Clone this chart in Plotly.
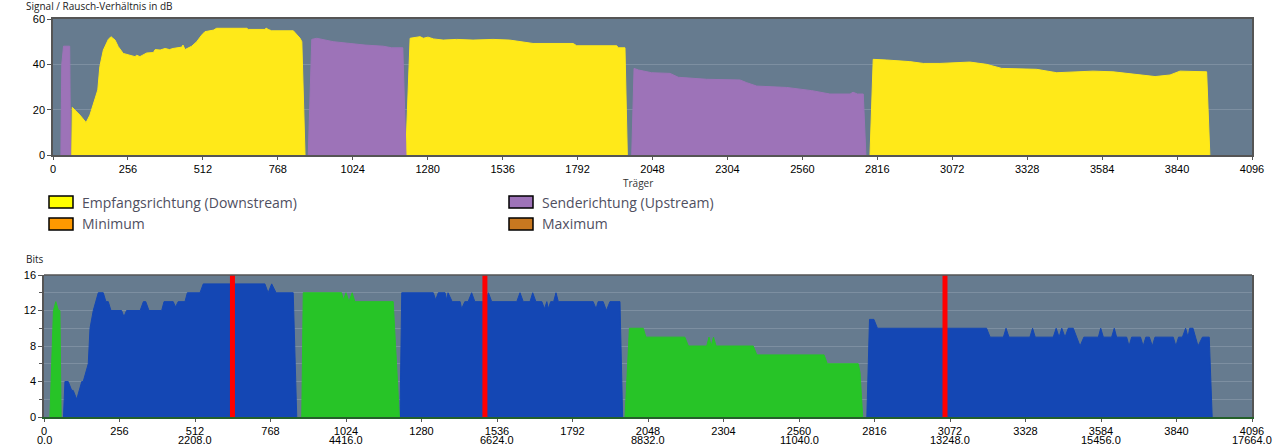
import plotly.graph_objects as go

# ---------------- data ----------------
# SNR (dB) per carrier, downstream
ds_snr_tone = [64, 66, 92, 113, 126, 143, 153, 160, 172, 189, 198, 212, 223, 240, 263, 280, 286, 297,
               320, 343, 349, 366, 383, 398, 410, 440, 444, 451, 474, 491, 508, 519, 548, 559, 662, 667,
               724, 728, 735, 747, 821, 844, 850, 861,
               None,
               1205, 1220, 1254, 1265, 1281, 1300, 1333, 1379, 1435, 1503, 1560, 1595, 1640, 1777, 1789,
               1926, 1931, 1954, 1962,
               None,
               2791, 2802, 2848, 2927, 2973, 3030, 3132, 3189, 3241, 3360, 3429, 3553, 3621, 3713,
               3765, 3816, 3850, 3941, 3952]
ds_snr_db = [0, 21, 17.6, 14.3, 17.6, 24.3, 28.7, 39, 46.3, 51, 52.2, 50.7, 47.8, 44.8, 44, 43.4, 44, 43.4,
             45, 45.2, 46.5, 46.3, 47, 46.5, 47, 47.6, 48.5, 46.5, 48, 50, 52.9, 54.4, 55.1, 55.9, 55.9, 55.4,
             55.4, 56, 55.4, 54.8, 54.8, 51.5, 50, 0,
             None,
             0, 51.5, 52.2, 51.5, 52, 51.2, 50.7, 51, 50.7, 51, 50.7, 50, 49.2, 49.2, 48.2,
             48.2, 47.3, 47.3, 0,
             None,
             0, 42.2, 41.9, 41.2, 40.4, 40.4, 41, 40, 38.2, 37.8, 36.3, 37, 36.7, 35.3,
             34.6, 35.3, 37, 36.7, 0]

# SNR (dB) per carrier, upstream
us_snr_tone = [27, 30, 36, 57, 60,
               None,
               872, 884, 901, 957, 1015, 1066, 1128, 1157, 1195, 1206,
               None,
               1977, 1985, 2000, 2045, 2108, 2136, 2233, 2347, 2370, 2404, 2506, 2592, 2654, 2723, 2733,
               2748, 2768, 2777]
us_snr_db = [0, 40, 48, 48, 0,
             None,
             0, 51, 51.5, 50, 49.2, 48.5, 48, 47.3, 47.3, 0,
             None,
             0, 38.2, 37.5, 36.3, 36, 34.3, 33.4, 33.1, 31.9, 30.4, 29.8, 28.4, 26.9, 26.9, 27.7,
             26.9, 26.9, 0]

# Bits per carrier, downstream
ds_bits_tone = [66, 71, 82, 94, 99, 111, 128, 133, 150, 156, 167, 184, 201, 210, 218, 227, 263, 271, 280,
                326, 337, 345, 356, 399, 407, 438, 446, 455, 478, 486, 529, 540, 749, 760, 772, 787, 845, 857,
                None,
                1207, 1213, 1320, 1328, 1337, 1360, 1365, 1370, 1384, 1411, 1416, 1427, 1438, 1450, 1461,
                1496, 1507, 1518, 1603, 1614, 1625, 1648, 1657, 1668, 1688, 1697, 1705, 1710, 1718, 1728,
                1736, 1744, 1862, 1872, 1879, 1896, 1907, 1919, 1953, 1962,
                None,
                2790, 2799, 2814, 2826, 3196, 3208, 3253, 3262, 3272, 3343, 3352, 3361, 3422, 3432, 3442,
                3451, 3462, 3473, 3490, 3513, 3526, 3575, 3583, 3592, 3620, 3629, 3637, 3671, 3679, 3688,
                3718, 3727, 3736, 3748, 3758, 3767, 3829, 3838, 3847, 3860, 3871, 3879, 3885, 3896, 3913,
                3928, 3951, 3961]
ds_bits = [0, 4, 4, 3, 3, 2, 4, 4, 6, 10, 12, 14, 14, 13, 13, 12, 12, 11.3, 12,
           12, 13, 13, 12, 12, 13, 13, 12.4, 13, 13, 14, 14, 15, 15, 14, 15, 14, 14, 0,
           None,
           0, 14, 14, 13.2, 14, 14, 13.2, 14, 13, 13, 12.2, 13, 13, 14, 13,
           13, 14, 13, 13, 14, 13, 13, 14, 13, 13, 12.2, 13, 12.2, 13, 13,
           14, 13, 13, 12.2, 13, 13, 12, 13, 13, 0,
           None,
           0, 11, 11, 10, 10, 9, 9, 10, 9, 9, 10, 9, 9, 10, 9,
           10, 9, 10, 10, 8, 9, 9, 10, 9, 9, 10, 9, 9, 8, 9,
           9, 8, 9, 9, 8, 9, 9, 8, 9, 9, 10, 9, 10, 10, 8,
           9, 9, 0]

# Bits per carrier, upstream
us_bits_tone = [20, 32, 40, 49, 54, 58,
                None,
                874, 879, 1009, 1015, 1024, 1034, 1045, 1054, 1184, 1205,
                None,
                1970, 1985, 2032, 2041, 2173, 2185, 2247, 2255, 2262, 2270, 2279, 2405, 2417, 2645, 2656,
                2761, 2767, 2776]
us_bits = [0, 12, 13, 12, 12, 0,
           None,
           0, 14, 14, 13.2, 14, 13, 14, 13, 13, 0,
           None,
           0, 10, 10, 9, 9, 8, 8, 9, 8, 9, 8, 8, 7, 7, 6,
           6, 5, 0]

# marker carriers (red lines)
marker_tones = [639, 1495, 3055]

tick_tones = list(range(0, 4097, 256))
khz_tones = list(range(0, 4097, 512))
khz_per_tone = 4.3125

legend_names = ["Empfangsrichtung (Downstream)", "Senderichtung (Upstream)", "Minimum", "Maximum"]
legend_colors = ["#FFFF00", "#9E73B8", "#FF9900", "#C87820"]

# ---------------- styles ----------------
YELLOW = "#FFE919"
PURPLE = "#9D73B8"
BLUE = "#1447B4"
GREEN = "#27C427"
RED = "#FF0000"
BG = "#667B8F"
GRID = "#7D8FA1"
FRAME = "#555555"
TICKFONT = dict(family="Liberation Sans, Arial, sans-serif", size=11, color="#000000")

W, H = 1274, 445
ML, MR, MT, MB = 44, 22, 19, 28
PW, PH = W - ML - MR, H - MT - MB


def px_x(p):
    return (p - ML) / PW


def px_y(p):
    return (H - MB - p) / PH


fig = go.Figure()

fig.add_trace(go.Scatter(x=ds_snr_tone, y=ds_snr_db, mode="lines", fill="tozeroy",
                         line=dict(color=YELLOW, width=1), fillcolor=YELLOW,
                         xaxis="x", yaxis="y", showlegend=False, hoverinfo="skip"))
fig.add_trace(go.Scatter(x=us_snr_tone, y=us_snr_db, mode="lines", fill="tozeroy",
                         line=dict(color=PURPLE, width=1), fillcolor=PURPLE,
                         xaxis="x", yaxis="y", showlegend=False, hoverinfo="skip"))

fig.add_trace(go.Scatter(x=ds_bits_tone, y=ds_bits, mode="lines", fill="tozeroy",
                         line=dict(color=BLUE, width=1), fillcolor=BLUE,
                         xaxis="x2", yaxis="y2", showlegend=False, hoverinfo="skip"))
fig.add_trace(go.Scatter(x=us_bits_tone, y=us_bits, mode="lines", fill="tozeroy",
                         line=dict(color=GREEN, width=1), fillcolor=GREEN,
                         xaxis="x2", yaxis="y2", showlegend=False, hoverinfo="skip"))

mx, my = [], []
for t in marker_tones:
    mx += [t, t, None]
    my += [0, 16, None]
fig.add_trace(go.Scatter(x=mx, y=my, mode="lines", line=dict(color=RED, width=5),
                         xaxis="x2", yaxis="y2", showlegend=False, hoverinfo="skip"))

top_dom = [px_y(155), px_y(19)]
bot_dom = [0, px_y(275)]

axis_common = dict(showline=True, linecolor=FRAME, linewidth=1.5, ticks="outside", ticklen=4,
                   tickcolor=FRAME, tickfont=TICKFONT, zeroline=False, automargin=False)
xaxis_common = dict(axis_common, ticklen=3)

fig.update_layout(
    width=W, height=H,
    margin=dict(l=ML, r=MR, t=MT, b=MB, autoexpand=False),
    paper_bgcolor="white", plot_bgcolor=BG,
    xaxis=dict(domain=[px_x(53), 1], anchor="y", range=[0, 4096], tickvals=tick_tones,
               ticktext=[str(t) for t in tick_tones], showgrid=False, mirror=True, **xaxis_common),
    yaxis=dict(domain=top_dom, anchor="x", range=[0, 60], tickvals=[0, 20, 40, 60],
               showgrid=True, gridcolor=GRID, gridwidth=1, mirror=True, **axis_common),
    xaxis2=dict(domain=[0, 1], anchor="y2", range=[0, 4096], tickvals=tick_tones,
                ticktext=[str(t) for t in tick_tones],
                showgrid=False, showline=True, linecolor="#24602A", linewidth=1.5, ticks="outside",
                ticklen=3, tickcolor=FRAME, tickfont=TICKFONT, zeroline=False, automargin=False),
    yaxis2=dict(domain=bot_dom, anchor="x2", range=[0, 16], tickvals=[0, 4, 8, 12, 16],
                showgrid=True, gridcolor=GRID, gridwidth=1, mirror=True,
                minor=dict(tickvals=[2, 6, 10, 14], ticks="outside", ticklen=3, tickcolor=FRAME,
                           showgrid=True, gridcolor=GRID, gridwidth=1),
                **axis_common),
    font=dict(family="Liberation Sans, Arial, sans-serif"),
)

# second row of tick labels: frequency in kHz
for t in khz_tones:
    fig.add_annotation(text=f"{t * khz_per_tone:.1f}", xref="x2", yref="paper",
                       x=t, y=px_y(440), xanchor="center", yanchor="middle", showarrow=False,
                       font=TICKFONT)

# top frame line of the bits chart
fig.add_shape(type="line", xref="x2 domain", yref="y2 domain", x0=0, x1=1, y0=1, y1=1,
              line=dict(color=FRAME, width=1.5))

small = dict(family="Open Sans, sans-serif", size=10, color="#222222")
fig.add_annotation(text="Signal / Rausch-Verhältnis in dB", xref="paper", yref="paper",
                   x=px_x(24), y=px_y(6), xanchor="left", yanchor="middle", showarrow=False, font=small)
fig.add_annotation(text="Träger", xref="paper", yref="paper",
                   x=px_x(638), y=px_y(183), xanchor="center", yanchor="middle", showarrow=False,
                   font=dict(family="Open Sans, sans-serif", size=10, color="#333333"))
fig.add_annotation(text="Bits", xref="paper", yref="paper",
                   x=px_x(24), y=px_y(259), xanchor="left", yanchor="middle", showarrow=False, font=small)

# manual legend
cols = [49, 509]
rows = [196, 218]
for i, (name, col) in enumerate(zip(legend_names, legend_colors)):
    cx = cols[i % 2]
    ry = rows[i // 2]
    fig.add_shape(type="rect", xref="paper", yref="paper",
                  x0=px_x(cx), x1=px_x(cx + 24), y0=px_y(ry + 12), y1=px_y(ry),
                  fillcolor=col, line=dict(color="#000000", width=1.5))
    fig.add_annotation(text=name, xref="paper", yref="paper",
                       x=px_x(cx + 31), y=px_y(ry + 6), xanchor="left", yanchor="middle",
                       showarrow=False,
                       font=dict(family="Open Sans, sans-serif", size=14, color="#4f4f5f"))

fig.write_html("out.html", config={"displayModeBar": False},
               post_script="document.body.style.margin='0';document.body.style.overflow='hidden';")
